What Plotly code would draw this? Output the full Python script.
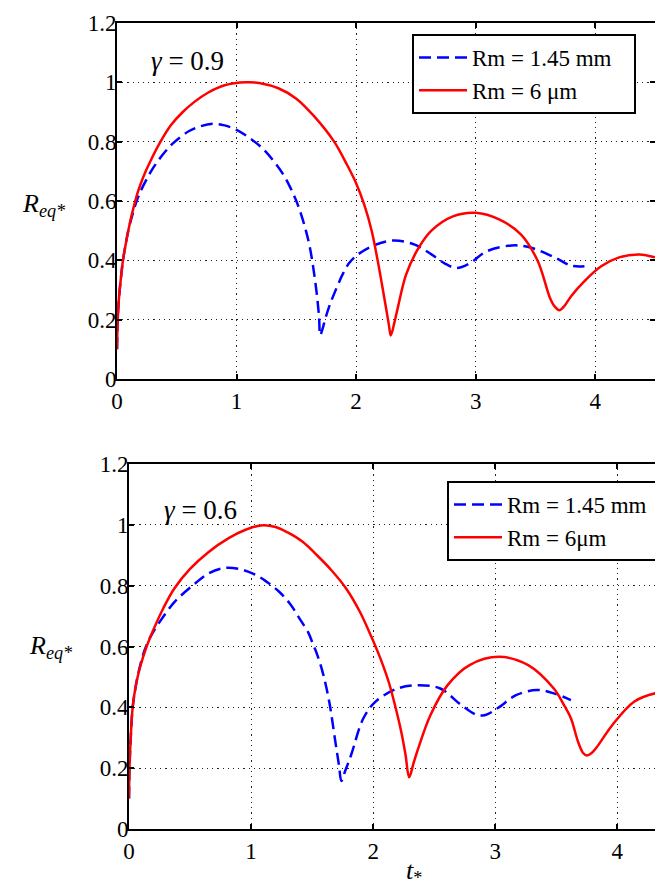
import plotly.graph_objects as go

# ---------------- data ----------------
# Top panel, gamma = 0.9
t_top_blue = [0, 0.005, 0.015, 0.03, 0.05, 0.075, 0.1, 0.13, 0.16, 0.2, 0.25, 0.3, 0.38, 0.47,
              0.6, 0.7, 0.8, 0.9, 1.0, 1.1, 1.21, 1.3, 1.39, 1.45, 1.50, 1.54, 1.58, 1.61,
              1.64, 1.67, 1.69, 1.70, 1.72, 1.74, 1.78, 1.84, 1.89, 1.94, 2.0, 2.13, 2.31,
              2.49, 2.63, 2.74, 2.84, 2.95, 3.09, 3.3, 3.45, 3.66, 3.8, 3.91]
r_top_blue = [0.10, 0.19, 0.265, 0.33, 0.40, 0.46, 0.51, 0.555, 0.595, 0.635, 0.675, 0.71, 0.755,
              0.795, 0.835, 0.852, 0.86, 0.855, 0.84, 0.815, 0.78, 0.74, 0.69, 0.645, 0.60,
              0.555, 0.50, 0.45, 0.38, 0.29, 0.21, 0.148, 0.17, 0.20, 0.25, 0.31, 0.355, 0.39,
              0.415, 0.447, 0.467, 0.453, 0.42, 0.39, 0.374, 0.39, 0.43, 0.45, 0.444, 0.41,
              0.382, 0.38]

t_top_red = [0, 0.005, 0.015, 0.03, 0.05, 0.08, 0.11, 0.14, 0.17, 0.2, 0.24, 0.28, 0.357, 0.45,
             0.55, 0.65, 0.76, 0.9, 1.08, 1.2, 1.35, 1.5, 1.65, 1.816, 1.92, 2.0, 2.07, 2.13,
             2.18, 2.22, 2.25, 2.275, 2.29, 2.32, 2.348, 2.418, 2.52, 2.63, 2.81, 3.0, 3.2,
             3.38, 3.52, 3.62, 3.66, 3.70, 3.74, 3.8, 3.91, 4.05, 4.2, 4.37, 4.5]
r_top_red = [0.10, 0.19, 0.265, 0.33, 0.40, 0.47, 0.53, 0.58, 0.625, 0.66, 0.70, 0.735, 0.795,
             0.855, 0.90, 0.935, 0.965, 0.99, 1.0, 0.997, 0.98, 0.945, 0.885, 0.80, 0.725,
             0.66, 0.585, 0.50, 0.40, 0.31, 0.24, 0.18, 0.147, 0.19, 0.239, 0.352, 0.44, 0.50,
             0.548, 0.56, 0.537, 0.487, 0.397, 0.275, 0.245, 0.232, 0.245, 0.28, 0.33, 0.38,
             0.41, 0.42, 0.41]

# Bottom panel, gamma = 0.6
t_bot_blue = [0, 0.004, 0.012, 0.03, 0.06, 0.093, 0.13, 0.18, 0.25, 0.37, 0.52, 0.65, 0.78,
              0.9, 1.02, 1.12, 1.23, 1.32, 1.40, 1.47, 1.50, 1.54, 1.59, 1.64, 1.69, 1.72,
              1.74, 1.77, 1.82, 1.92, 2.02, 2.20, 2.37, 2.55, 2.72, 2.85, 2.92, 3.03, 3.17,
              3.34, 3.48, 3.62]
r_bot_blue = [0.10, 0.2, 0.28, 0.40, 0.48, 0.54, 0.59, 0.635, 0.68, 0.745, 0.80, 0.84, 0.858,
              0.855, 0.839, 0.815, 0.78, 0.74, 0.69, 0.645, 0.615, 0.575, 0.51, 0.419, 0.288,
              0.21, 0.158, 0.19, 0.244, 0.364, 0.419, 0.462, 0.473, 0.462, 0.408, 0.375, 0.375,
              0.40, 0.44, 0.457, 0.446, 0.424]

t_bot_red = [0, 0.004, 0.012, 0.03, 0.06, 0.093, 0.14, 0.2, 0.28, 0.37, 0.5, 0.65, 0.82, 0.95,
             1.08, 1.2, 1.3, 1.42, 1.54, 1.66, 1.78, 1.89, 1.99, 2.06, 2.13, 2.18, 2.23, 2.265,
             2.295, 2.33, 2.37, 2.47, 2.61, 2.79, 3.03, 3.27, 3.48, 3.56, 3.62, 3.68, 3.72,
             3.75, 3.79, 3.83, 3.96, 4.14, 4.31, 4.44]
r_bot_red = [0.10, 0.2, 0.28, 0.40, 0.48, 0.535, 0.595, 0.655, 0.725, 0.79, 0.855, 0.91, 0.957,
             0.983, 0.998, 0.993, 0.975, 0.945, 0.90, 0.85, 0.79, 0.715, 0.628, 0.56, 0.48,
             0.405, 0.32, 0.245, 0.17, 0.215, 0.266, 0.375, 0.473, 0.539, 0.566, 0.539, 0.462,
             0.41, 0.364, 0.285, 0.25, 0.242, 0.25, 0.268, 0.342, 0.419, 0.446, 0.45]

PAD = "\u00a0\u00a0\u00a0"
legend_names = ["Rm = 1.45 mm" + PAD, "Rm = 6 μm" + PAD]
legend_names_bottom = ["Rm = 1.45 mm" + PAD, "Rm = 6μm" + PAD]
x_ticks = [0, 1, 2, 3, 4]
y_ticks = [0, 0.2, 0.4, 0.6, 0.8, 1, 1.2]

# ---------------- figure ----------------
W, H = 663, 885
SERIF = "Liberation Serif, Times New Roman, Times, DejaVu Serif, serif"
BLUE = "#0000FF"
RED = "#FF0000"

fig = go.Figure()

def add_pair(tb, rb, tr, rr, names, xa, ya, lg):
    fig.add_trace(go.Scatter(
        x=tb, y=rb, mode="lines", name=names[0], xaxis=xa, yaxis=ya, legend=lg,
        line=dict(color=BLUE, width=2.5, dash="12px,6px", shape="spline", smoothing=1.0)))
    fig.add_trace(go.Scatter(
        x=tr, y=rr, mode="lines", name=names[1], xaxis=xa, yaxis=ya, legend=lg,
        line=dict(color=RED, width=2.5, shape="spline", smoothing=1.0)))

add_pair(t_top_blue, r_top_blue, t_top_red, r_top_red, legend_names, "x", "y", "legend")
add_pair(t_bot_blue, r_bot_blue, t_bot_red, r_bot_red, legend_names_bottom, "x2", "y2", "legend2")

axis_common = dict(
    showline=True, linecolor="black", linewidth=2,
    ticks="inside", ticklen=5, tickwidth=1.5, tickcolor="black",
    showgrid=True, gridcolor="#222222", gridwidth=1.2, griddash="1.2px,4px",
    zeroline=False, automargin=False,
    tickfont=dict(family=SERIF, size=23, color="black"),
)

leg_common = dict(bordercolor="black", borderwidth=2, bgcolor="white",
                  font=dict(family=SERIF, size=23, color="black"),
                  tracegroupgap=0, itemwidth=48)

fig.update_layout(
    width=W, height=H,
    margin=dict(l=0, r=0, t=0, b=0),
    paper_bgcolor="white", plot_bgcolor="white",
    showlegend=True,
    xaxis=dict(axis_common, domain=[109 / W, 647 / W], range=[0, 4.5],
               tickvals=x_ticks, mirror="allticks", anchor="y"),
    yaxis=dict(axis_common, domain=[1 - 371 / H, 1 - 15 / H], range=[0, 1.2],
               tickvals=y_ticks, mirror="allticks", anchor="x", ticklabelstandoff=-6),
    xaxis2=dict(axis_common, domain=[121 / W, 1.0], range=[0, 4.44],
                tickvals=x_ticks, mirror="allticks", anchor="y2"),
    yaxis2=dict(axis_common, domain=[1 - 821 / H, 1 - 456 / H], range=[0, 1.2],
                tickvals=y_ticks, mirror=False, anchor="x2", ticklabelstandoff=-6),
    legend=dict(leg_common, x=628 / W, xanchor="right", y=1 - 26 / H, yanchor="top"),
    legend2=dict(leg_common, x=1.0, xanchor="right", y=1 - 473 / H, yanchor="top"),
)

ann_font = dict(family=SERIF, size=27, color="black")
fig.add_annotation(text="<i>γ</i> = 0.9", xref="paper", yref="paper",
                   x=141 / W, y=1 - 53 / H, xanchor="left", yanchor="middle",
                   showarrow=False, font=ann_font)
fig.add_annotation(text="<i>γ</i> = 0.6", xref="paper", yref="paper",
                   x=154 / W, y=1 - 502 / H, xanchor="left", yanchor="middle",
                   showarrow=False, font=ann_font)

lab_font = dict(family=SERIF, size=26, color="black")
fig.add_annotation(text="<i>R</i><sub><i>eq*</i></sub>", xref="paper", yref="paper",
                   x=12 / W, y=1 - 197 / H, xanchor="left", yanchor="middle",
                   showarrow=False, font=lab_font)
fig.add_annotation(text="<i>R</i><sub><i>eq*</i></sub>", xref="paper", yref="paper",
                   x=19 / W, y=1 - 639 / H, xanchor="left", yanchor="middle",
                   showarrow=False, font=lab_font)
fig.add_annotation(text="<i>t</i><sub>*</sub>", xref="paper", yref="paper",
                   x=406 / W, y=1 - 864 / H, xanchor="center", yanchor="middle",
                   showarrow=False, font=lab_font)

fig.write_html("out.html")
